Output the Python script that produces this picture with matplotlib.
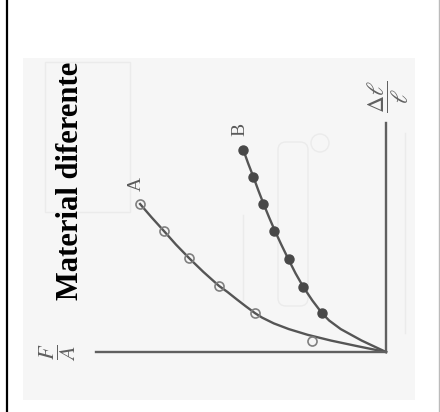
import matplotlib.pyplot as plt
from matplotlib.patches import Rectangle, FancyBboxPatch, Circle

plt.rcParams['mathtext.fontset'] = 'stix'

# stress (F/A) and strain (dl/l) in arbitrary units, drawn with the figure turned on its side
curve_a_strain = [0.0, 0.2, 0.4, 0.6, 0.8, 1.0, 1.2, 1.36, 1.6, 1.85, 2.1, 2.31, 2.8, 3.28, 3.75, 4.23, 4.7, 5.17]
curve_a_stress = [0.0, 0.97, 1.9, 2.7, 3.35, 3.87, 4.27, 4.52, 4.84, 5.16, 5.47, 5.76, 6.3, 6.79, 7.24, 7.66, 8.08, 8.48]
pts_a_stress = [2.55, 4.52, 5.76, 6.79, 7.66, 8.48]
pts_a_strain = [0.38, 1.36, 2.31, 3.28, 4.23, 5.17]

curve_b_strain = [0.0, 0.4, 0.8, 1.1, 1.36, 1.8, 2.27, 2.75, 3.25, 3.75, 4.23, 4.7, 5.17, 5.64, 6.11, 6.58, 7.06]
curve_b_stress = [0.0, 0.84, 1.56, 1.96, 2.21, 2.54, 2.85, 3.12, 3.37, 3.61, 3.83, 4.03, 4.22, 4.40, 4.57, 4.75, 4.92]
pts_b_stress = [2.21, 2.86, 3.34, 3.86, 4.24, 4.59, 4.93]
pts_b_strain = [1.36, 2.27, 3.25, 4.23, 5.17, 6.11, 7.06]

W, H = 440, 412
fig = plt.figure(figsize=(W / 100, H / 100), dpi=100)

# page background in pixel units
bg = fig.add_axes([0, 0, 1, 1])
bg.set_xlim(0, W)
bg.set_ylim(H, 0)
bg.axis('off')
bg.add_patch(Rectangle((23, 58), 392, 342, facecolor='#f6f6f6', edgecolor='none'))
# faint print-through from the other side of the page
faint = '#ebebeb'
bg.add_patch(Rectangle((45, 62), 85, 150, fill=False, edgecolor=faint, lw=1))
bg.add_patch(FancyBboxPatch((278, 142), 30, 164, boxstyle='round,pad=0,rounding_size=8',
                            fill=False, edgecolor=faint, lw=1))
bg.add_patch(Circle((320, 143), 9, fill=False, edgecolor=faint, lw=1))
bg.plot([243, 243], [215, 300], color=faint, lw=1)
bg.plot([405, 405], [133, 333], color=faint, lw=1)
bg.plot([7, 7], [0, H], color='black', lw=1.6)
bg.plot([439, 439], [0, H], color='#bbbbbb', lw=1)

bg.text(71, 181, 'Material diferente', rotation=90, ha='center', va='center',
        family='Liberation Serif', fontweight='bold', fontsize=22, color='black')

ax = fig.add_axes([96 / W, 1 - 352 / H, 290 / W, 229 / H])
ax.patch.set_visible(False)
ax.set_xlim(10, 0)
ax.set_ylim(0, 8)
for side in ['left', 'top']:
    ax.spines[side].set_visible(False)
for side in ['right', 'bottom']:
    ax.spines[side].set_color('#606060')
    ax.spines[side].set_linewidth(1.7)
ax.set_xticks([])
ax.set_yticks([])

lc = '#555555'
ax.plot(curve_a_stress, curve_a_strain, color=lc, lw=1.7, clip_on=False)
ax.plot(curve_b_stress, curve_b_strain, color=lc, lw=1.7, clip_on=False)
ax.plot(pts_a_stress, pts_a_strain, 'o', ms=6.5, mfc='none', mec='#808080', mew=1.2, clip_on=False)
ax.plot(pts_b_stress, pts_b_strain, 'o', ms=6.5, mfc='#484848', mec='#484848', clip_on=False)

ax.annotate('A', (pts_a_stress[-1], pts_a_strain[-1]), xytext=(-3, 14.5), textcoords='offset points',
            rotation=90, ha='center', va='center', family='Liberation Serif', fontsize=14, color='#5a5a5a')
ax.annotate('B', (pts_b_stress[-1], pts_b_strain[-1]), xytext=(-2, 15), textcoords='offset points',
            rotation=90, ha='center', va='center', family='Liberation Serif', fontsize=14, color='#5a5a5a')

ax.text(-0.134, 0.0, r'$\dfrac{F}{A}$', transform=ax.transAxes, rotation=90,
        ha='center', va='center', fontsize=16, color='#606060')
ax.text(1.007, 1.113, r'$\dfrac{\Delta\ell}{\ell}$', transform=ax.transAxes, rotation=90,
        ha='center', va='center', fontsize=17, color='#606060')

fig.savefig('out.png', dpi=100)
